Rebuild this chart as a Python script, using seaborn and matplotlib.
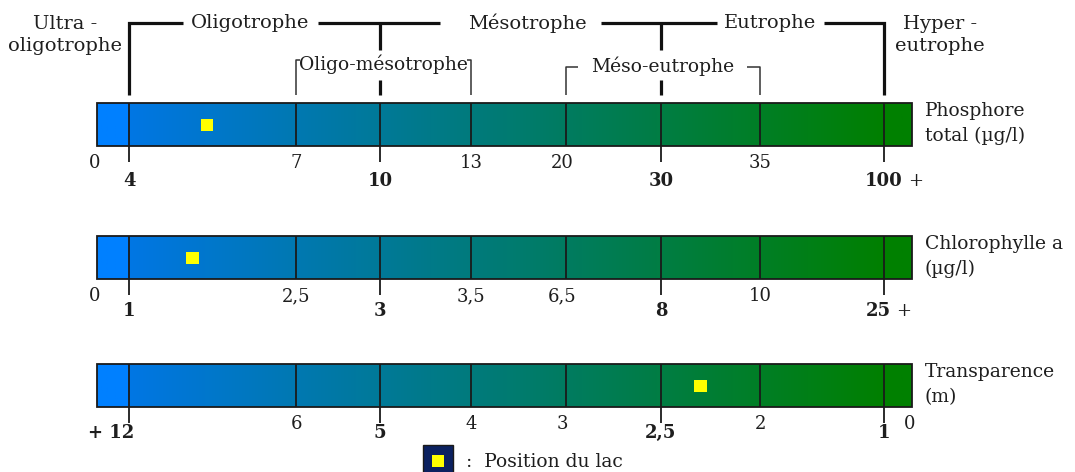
import numpy as np
import matplotlib
matplotlib.use("Agg")
import matplotlib.pyplot as plt
from matplotlib.patches import Rectangle
import seaborn as sns
import pandas as pd

# ---------------- data ----------------
row_labels = ["Phosphore\ntotal (µg/l)", "Chlorophylle a\n(µg/l)", "Transparence\n(m)"]
phos_ticks = ["0", "4", "7", "10", "13", "20", "30", "35", "100"]
phos_vals = [0, 4, 7, 10, 13, 20, 30, 35, 100]
chla_ticks = ["0", "1", "2,5", "3", "3,5", "6,5", "8", "10", "25"]
chla_vals = [0, 1, 2.5, 3, 3.5, 6.5, 8, 10, 25]
transp_ticks = ["12", "6", "5", "4", "3", "2,5", "2", "1", "0"]
transp_vals = [12, 6, 5, 4, 3, 2.5, 2, 1, 0]
lake_values = [5.4, 1.57, 2.3]
major_classes = ["Ultra -\noligotrophe", "Oligotrophe", "Mésotrophe", "Eutrophe", "Hyper -\neutrophe"]
sub_classes = ["Oligo-mésotrophe", "Méso-eutrophe"]
legend_label = ":  Position du lac"

# ---------------- layout ----------------
bounds_px = np.array([97, 129, 296, 380, 471, 566, 661, 760, 884, 912], dtype=float)
major_idx = {1, 3, 6, 8}
row_top = [103, 236, 364]
bar_h = 43
bold_off = [35, 32, 26]
tick_rows = [(phos_ticks, phos_vals, 0), (chla_ticks, chla_vals, 0), (transp_ticks, transp_vals, 1)]

sns.set_theme(style="white")
plt.rcParams["font.family"] = ["DejaVu Serif"]
TXT = "#1e1e1e"

fig = plt.figure(figsize=(10.75, 4.72), dpi=100)
fig.patch.set_facecolor("white")
ax = fig.add_axes([0, 0, 1, 1])
ax.set_xlim(0, 1075)
ax.set_ylim(472, 0)
ax.axis("off")

# gradient colour
def grad_colors(n):
    xs = np.linspace(bounds_px[0], bounds_px[-1], n)
    cols = np.zeros((1, n, 3))
    t = np.clip((xs - bounds_px[1]) / (bounds_px[8] - bounds_px[1]), 0, 1)
    cols[0, :, 0] = 0.0
    cols[0, :, 1] = (118 + 10 * t) / 255
    cols[0, :, 2] = (228 * (1 - t)) / 255
    first = xs < bounds_px[1]
    cols[0, first, :] = [0, 128 / 255, 1.0]
    last = xs >= bounds_px[8]
    cols[0, last, :] = [0, 128 / 255, 0]
    return cols

grad = grad_colors(900)

for r, top in enumerate(row_top):
    bot = top + bar_h
    ax.imshow(grad, extent=(bounds_px[0], bounds_px[-1], bot, top), aspect="auto",
              interpolation="bilinear", zorder=1)
    ax.add_patch(Rectangle((bounds_px[0], top), bounds_px[-1] - bounds_px[0], bar_h,
                           fill=False, ec="#1a1a1a", lw=1.3, zorder=3))
    for i in range(1, 9):
        x = bounds_px[i]
        y2 = bot + 16 if i in major_idx else bot
        ax.plot([x, x], [top, y2], color="#1a1a1a", lw=1.3, zorder=3,
                solid_capstyle="butt")
    # row label
    ax.text(925, top + bar_h / 2 - 1, row_labels[r], ha="left", va="center",
            fontsize=13.5, color=TXT, linespacing=1.45)
    # tick labels
    ticks, vals, start = tick_rows[r]
    for k, lab in enumerate(ticks):
        i = start + k
        x = bounds_px[i]
        if i in major_idx:
            yb_ = bot + bold_off[r]
            if r == 2 and i == 1:
                ax.text(x + 5, yb_, "+ " + lab, ha="right", va="center",
                        fontsize=13, fontweight="bold", color=TXT)
            else:
                dx = -6 if (i == 8 and r == 1) else 0
                t = ax.text(x + dx, yb_, lab, ha="center", va="center",
                            fontsize=13, fontweight="bold", color=TXT)
                if i == 8 and r < 2:
                    ax.annotate("+", xy=(1, 0.5), xycoords=t, xytext=(4, 0),
                                textcoords="offset points", ha="left", va="center",
                                fontsize=13, color=TXT)
        else:
            dx = -2 if i in (0, 9) else (-4 if i == 5 else 0)
            ax.text(x + dx, bot + 17, lab, ha="center", va="center",
                    fontsize=13, color=TXT)

# lake positions
lake_x = [
    np.interp(lake_values[0], phos_vals, bounds_px[0:9]),
    np.interp(lake_values[1], chla_vals, bounds_px[0:9]),
    np.interp(-lake_values[2], -np.array(transp_vals, dtype=float), bounds_px[1:10]),
]
lake_y = [t + bar_h / 2 + 0.5 for t in row_top]
df = pd.DataFrame({"x": lake_x, "y": lake_y})
sns.scatterplot(data=df, x="x", y="y", marker="s", s=78, color="#ffff00",
                edgecolor="none", linewidth=0, ax=ax, zorder=5, legend=False)
ax.set_xlim(0, 1075)
ax.set_ylim(472, 0)
ax.axis("off")

# ------------- class brackets -------------
K = "#111111"
thick = dict(color=K, lw=2.3, solid_capstyle="butt", solid_joinstyle="miter", zorder=4)
thin = dict(color="#333333", lw=1.1, solid_capstyle="butt", zorder=4)
yb = 23
ax.plot([bounds_px[1], bounds_px[1], 183], [95, yb, yb], **thick)
ax.plot([318, 440], [yb, yb], **thick)
ax.plot([bounds_px[3]] * 2, [yb, 50], **thick)
ax.plot([601, 717], [yb, yb], **thick)
ax.plot([bounds_px[6]] * 2, [yb, 50], **thick)
ax.plot([824, bounds_px[8], bounds_px[8]], [yb, yb, 95], **thick)
ax.plot([bounds_px[3]] * 2, [80, 95], **thick)
ax.plot([bounds_px[6]] * 2, [80, 95], **thick)

# sub-class brackets
ax.plot([bounds_px[2], bounds_px[2], 300], [95, 60, 60], **thin)
ax.plot([467, bounds_px[4], bounds_px[4]], [60, 60, 95], **thin)
ax.plot([bounds_px[5], bounds_px[5], 578], [95, 67, 67], **thin)
ax.plot([747, bounds_px[7], bounds_px[7]], [67, 67, 95], **thin)

ax.text(65, 35, major_classes[0], ha="center", va="center", fontsize=14,
        color=TXT, linespacing=1.3)
ax.text(250, yb, major_classes[1], ha="center", va="center", fontsize=14, color=TXT)
ax.text(527, yb, major_classes[2], ha="center", va="center", fontsize=14, color=TXT)
ax.text(770, yb, major_classes[3], ha="center", va="center", fontsize=14, color=TXT)
ax.text(940, 35, major_classes[4], ha="center", va="center", fontsize=14,
        color=TXT, linespacing=1.3)
ax.text(383, 64, sub_classes[0], ha="center", va="center", fontsize=13.5, color=TXT)
ax.text(663, 66, sub_classes[1], ha="center", va="center", fontsize=13.5, color=TXT)

# legend
ax.add_patch(Rectangle((423, 445), 30, 30, fc="#0b2160", ec="#1a1a1a", lw=1, zorder=5))
ax.add_patch(Rectangle((432, 455), 12, 12, fc="#ffff00", ec="none", zorder=6))
ax.text(466, 462, legend_label, ha="left", va="center", fontsize=13.5, color=TXT)

fig.savefig("out.png", dpi=100, facecolor="white")
